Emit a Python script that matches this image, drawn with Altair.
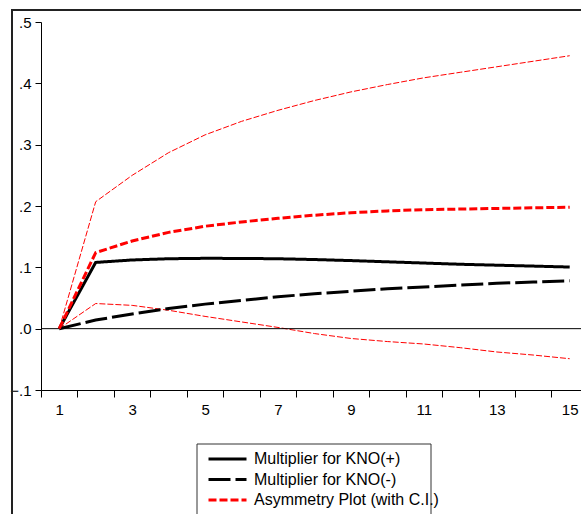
import altair as alt
import pandas as pd

periods = list(range(1, 16))
kno_pos = [0, 0.108, 0.112, 0.114, 0.1147, 0.1145, 0.114, 0.1127, 0.111, 0.109, 0.107, 0.105, 0.1035, 0.102, 0.1005]
kno_neg = [0, 0.014, 0.024, 0.033, 0.040, 0.046, 0.052, 0.057, 0.061, 0.065, 0.068, 0.071, 0.074, 0.076, 0.078]
asym = [0, 0.124, 0.143, 0.157, 0.167, 0.174, 0.180, 0.185, 0.189, 0.192, 0.194, 0.195, 0.196, 0.197, 0.198]
ci_upper = [0, 0.207, 0.250, 0.287, 0.316, 0.338, 0.356, 0.372, 0.386, 0.398, 0.409, 0.418, 0.427, 0.436, 0.445]
ci_lower = [0, 0.041, 0.038, 0.030, 0.020, 0.011, 0.002, -0.008, -0.016, -0.021, -0.025, -0.031, -0.038, -0.043, -0.049]

series_names = ["Multiplier for KNO(+)", "Multiplier for KNO(-)", "Asymmetry Plot (with C.I.)"]
x_ticks = list(range(1, 16))
y_ticks = [-0.1, 0.0, 0.1, 0.2, 0.3, 0.4, 0.5]

main_rows = []
for name, vals in zip(series_names, [kno_pos, kno_neg, asym]):
    for p, v in zip(periods, vals):
        main_rows.append({"period": p, "value": v, "series": name})
main_df = pd.DataFrame(main_rows)

ci_rows = []
for name, vals in zip(["upper", "lower"], [ci_upper, ci_lower]):
    for p, v in zip(periods, vals):
        ci_rows.append({"period": p, "value": v, "band": name})
ci_df = pd.DataFrame(ci_rows)

half = 540 / 14.81 / 2

x_enc = alt.X("period:Q", scale=alt.Scale(domain=[0.5, 15.31], nice=False, zero=False),
              axis=alt.Axis(values=x_ticks, title=None, grid=False, tickOffset=-half, labelOffset=half,
                            labelExpr="datum.value % 2 == 1 ? datum.label : ''",
                            tickSize=7, labelPadding=5, domainColor="black", tickColor="black",
                            labelColor="black", labelFontSize=15, labelFont="Liberation Sans",
                            domainWidth=1, tickWidth=1))
y_enc = alt.Y("value:Q", scale=alt.Scale(domain=[-0.1, 0.5], nice=False, zero=False),
              axis=alt.Axis(values=y_ticks, title=None, grid=False,
                            labelExpr="replace(format(datum.value, '.1f'), '0.', '.')",
                            tickSize=6, labelPadding=4, domainColor="black", tickColor="black",
                            labelColor="black", labelFontSize=15, labelFont="Liberation Sans",
                            domainWidth=1, tickWidth=1))

one = pd.DataFrame({"a": [0]})

outer_frame = alt.Chart(one).mark_rect(filled=False, stroke="#222222", strokeWidth=2).encode(
    x=alt.value(-29), x2=alt.value(800), y=alt.value(-12), y2=alt.value(800))

legend_frame = alt.Chart(one).mark_rect(fill="white", stroke="#333333", strokeWidth=1).encode(
    x=alt.value(156), x2=alt.value(390), y=alt.value(422), y2=alt.value(560))

ci_lines = alt.Chart(ci_df).mark_line(color="#ff0000", strokeWidth=1, strokeDash=[6, 2]).encode(
    x=x_enc, y=y_enc, detail="band:N")

zero_rule = alt.Chart(one).mark_rule(color="black", strokeWidth=1).encode(y=alt.datum(0))

main_lines = alt.Chart(main_df).mark_line(strokeWidth=3, strokeCap="butt").encode(
    x=x_enc, y=y_enc,
    color=alt.Color("series:N", scale=alt.Scale(domain=series_names, range=["black", "black", "#ff0000"]),
                    title=None),
    strokeDash=alt.StrokeDash("series:N", scale=alt.Scale(domain=series_names, range=[[1, 0], [22, 5], [8, 3]]),
                              title=None),
)

chart = alt.layer(outer_frame, ci_lines, zero_rule, main_lines, legend_frame).properties(
    width=540, height=368,
    autosize=alt.AutoSizeParams(type="none"),
    padding={"left": 41, "top": 22, "right": 0, "bottom": 124},
    background="white",
).configure_view(strokeWidth=0).configure_legend(
    orient="none", legendX=156, legendY=419, padding=10,
    symbolType="stroke", symbolSize=1444, symbolStrokeWidth=3,
    clipHeight=16, rowPadding=4.5, labelOffset=6, labelLimit=400,
    labelFont="Liberation Sans", labelFontSize=16, labelColor="black",
)

chart.save("out.html", embed_options={"renderer": "svg", "actions": False})
